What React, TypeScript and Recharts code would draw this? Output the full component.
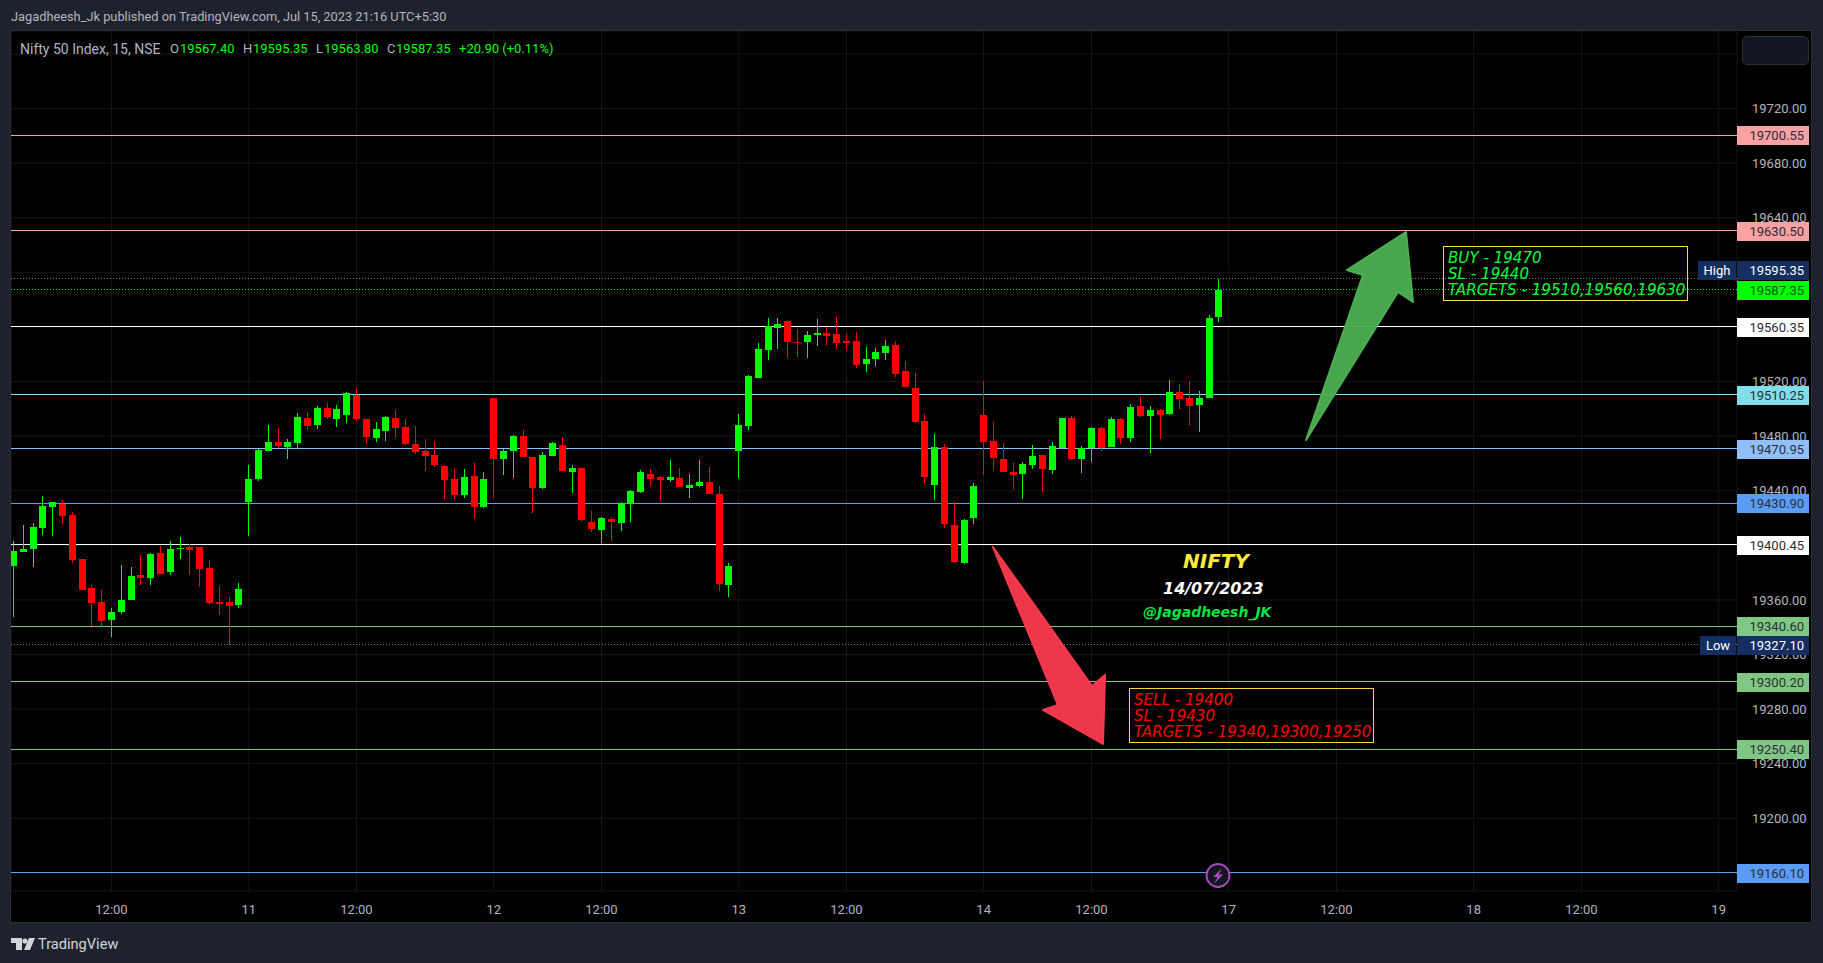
import { Bar, CartesianGrid, ComposedChart, ReferenceLine, XAxis, YAxis } from "recharts";

// 15 min bars, 10 Jul (partly off screen) to 14 Jul 2023
const opens = [
  19384.9, 19395.1, 19397.3, 19412.7, 19428.1, 19430.3, 19422.3, 19390, 19368.8, 19358.5,
  19345.3, 19351.2, 19360, 19378.3, 19376.1, 19394.4, 19380.5, 19397.3, 19398.8, 19398.8,
  19383.4, 19358.5, 19358.5, 19356.3, 19431.8, 19448.6, 19469.2, 19475.8, 19472.1, 19475,
  19493.3, 19488.2, 19500.7, 19492.6, 19495.5, 19510.2, 19492.6, 19478.7, 19483.8, 19493.3,
  19486.8, 19474.3, 19469.2, 19466.2, 19458.2, 19448.6, 19436.9, 19450.8, 19428.1, 19508,
  19463.3, 19469.2, 19480.2, 19464.8, 19442, 19465.5, 19473.6, 19453.8, 19456.7, 19417.1,
  19411.3, 19419.3, 19416.4, 19430.8, 19439.1, 19452.3, 19450.1, 19447.9, 19449.4, 19442,
  19443.5, 19446.4, 19437.6, 19371, 19469.1, 19487.5, 19522.6, 19543.2, 19559.3, 19564.4,
  19549, 19549, 19554.1, 19555.6, 19554.9, 19549.8, 19549.8, 19532.9, 19536.6, 19541,
  19546.8, 19527.8, 19515.3, 19491.1, 19444.2, 19472.1, 19414.9, 19387, 19420, 19495.5,
  19476.5, 19463.3, 19453.7, 19452.3, 19458.9, 19466.2, 19455.2, 19471.3, 19493.3, 19463.3,
  19471.3, 19486, 19472, 19492.6, 19478.6, 19502.1, 19494.8, 19499.2, 19496.2, 19512.4,
  19508, 19502.8, 19508, 19567.4,
];
const highs = [
  19403.2, 19414.9, 19416.4, 19436.2, 19431.8, 19433.3, 19424.5, 19390, 19371, 19367.3,
  19354.1, 19385.6, 19384.1, 19392.9, 19394.4, 19399.5, 19403.2, 19406.1, 19401, 19398.8,
  19389.3, 19370.2, 19362.2, 19372.4, 19458.9, 19470.6, 19488.2, 19486, 19478, 19497,
  19497.7, 19502.2, 19504.3, 19502.9, 19512.4, 19515.3, 19492.6, 19490.4, 19494.8, 19499.2,
  19492.6, 19487.5, 19478, 19476.5, 19458.9, 19456, 19456, 19460.4, 19453.8, 19508,
  19470.6, 19480.9, 19484.6, 19464.8, 19468.4, 19475.8, 19479.4, 19458.9, 19456.7, 19425.2,
  19420.8, 19420.8, 19431.8, 19440.6, 19455.2, 19456, 19450.8, 19462.6, 19456.7, 19452.3,
  19462.6, 19457.4, 19443.5, 19387.1, 19496.2, 19524.8, 19548.3, 19566.6, 19566.6, 19564.4,
  19558.5, 19557.1, 19565.9, 19560, 19567.3, 19554.9, 19556.3, 19545.4, 19544.6, 19550.5,
  19549.8, 19535.1, 19526.3, 19496.2, 19481.6, 19474.3, 19431.8, 19419.3, 19445.7, 19520.4,
  19490.4, 19475, 19460.3, 19461.1, 19473.5, 19466.2, 19475.7, 19493.3, 19494.8, 19472.8,
  19486.7, 19486.7, 19494, 19493.3, 19503.6, 19508.7, 19502.1, 19499.9, 19521.2, 19518.2,
  19520.4, 19513.1, 19568.8, 19595.35,
];
const lows = [
  19347.7, 19395.1, 19384.1, 19407.6, 19406.9, 19415.7, 19387.1, 19367.3, 19340.9, 19340.2,
  19332.8, 19349.7, 19360, 19371, 19371, 19379, 19378.3, 19390, 19378.3, 19369.5,
  19357, 19349, 19327.1, 19354.1, 19406.9, 19447.2, 19469.2, 19471.4, 19463.3, 19470.6,
  19484.6, 19485.3, 19492.6, 19486.8, 19489.7, 19491.2, 19474.3, 19475.8, 19476.5, 19478.7,
  19473.6, 19467, 19454.5, 19457.4, 19434, 19434, 19434.7, 19419.3, 19427.4, 19434.7,
  19451.6, 19449.4, 19464.8, 19423.7, 19441.3, 19465.5, 19454.5, 19438.4, 19417.9, 19409.8,
  19401.7, 19403.2, 19410.5, 19417.1, 19438.4, 19443.5, 19432.5, 19446.4, 19442.8, 19434.7,
  19442.8, 19437.6, 19366.6, 19362.2, 19449.3, 19484.5, 19522.6, 19535.8, 19543.9, 19537.3,
  19538, 19537.3, 19546.1, 19546.8, 19543.9, 19543.2, 19530, 19527, 19531.4, 19535.8,
  19523.4, 19516, 19489.7, 19444.9, 19433.2, 19412.7, 19387, 19386.3, 19415.6, 19451.5,
  19455.2, 19453.7, 19441.3, 19434, 19455.9, 19439.1, 19452.3, 19471.3, 19462.5, 19453,
  19461.1, 19469.1, 19472, 19474.2, 19475.7, 19494, 19467.7, 19477.9, 19495.5, 19499.9,
  19488.2, 19483, 19508, 19563.8,
];
const closes = [
  19395.9, 19397.3, 19413.5, 19428.9, 19431.8, 19421.5, 19389.3, 19367.3, 19357.8, 19344.6,
  19351.2, 19360, 19377.6, 19376.1, 19393.7, 19379, 19397.3, 19398.1, 19396.6, 19382.7,
  19357.8, 19357, 19355.6, 19368, 19448.6, 19469.9, 19475.8, 19472.8, 19475.8, 19494.1,
  19487.5, 19500.7, 19494.1, 19499.9, 19511.7, 19492.6, 19479.4, 19485.3, 19494.1, 19486,
  19474.3, 19468.4, 19465.5, 19458.9, 19447.9, 19436.9, 19450.1, 19428.1, 19448.6, 19463.3,
  19469.2, 19480.2, 19464.8, 19442, 19466.2, 19475, 19454.5, 19456.7, 19418.6, 19412,
  19420.1, 19417.1, 19430.8, 19439.8, 19453.8, 19448.6, 19447.9, 19450.1, 19442.8, 19444.2,
  19446.4, 19437.6, 19371.7, 19384.9, 19488.2, 19524.1, 19543.9, 19560.7, 19562.2, 19549,
  19548.3, 19554.1, 19555.6, 19553.4, 19548.3, 19548.3, 19532.2, 19536.6, 19541.7, 19546.1,
  19525.6, 19516, 19490.4, 19450.1, 19472.1, 19415.6, 19387.8, 19418.6, 19443.5, 19475.7,
  19464, 19453.7, 19451.5, 19459.6, 19465.5, 19455.9, 19472.8, 19493.3, 19463.3, 19471.3,
  19486, 19471.3, 19492.6, 19478.6, 19501.4, 19494.8, 19499.2, 19495.5, 19512.4, 19507.2,
  19502.1, 19508, 19566.6, 19587.35,
];

const xTicks = [10, 24, 35, 49, 60, 74, 85, 99, 110, 124, 135, 149, 160, 174];
const xTickLabels = ["12:00", "11", "12:00", "12", "12:00", "13", "12:00", "14", "12:00", "17", "12:00", "18", "12:00", "19"];
const yTicks = [19160, 19200, 19240, 19280, 19320, 19360, 19400, 19440, 19480, 19520, 19560, 19600, 19640, 19680, 19720, 19760];

const levels = [19700.55, 19630.5, 19560.35, 19510.25, 19470.95, 19430.9, 19400.45, 19340.6, 19300.2, 19250.4, 19160.1];
const levelColors = ["#faa1a4", "#faa1a4", "#ffffff", "#80deea", "#90bff9", "#5b9cf6", "#ffffff", "#81c784", "#81c784", "#81c784", "#5b9cf6"];

const sellLines = ["SELL - 19400", "SL - 19430", "TARGETS - 19340,19300,19250"];
const buyLines = ["BUY - 19470", "SL - 19440", "TARGETS - 19510,19560,19630"];

const candles = opens.map((open, i) => ({ i, open, high: highs[i], low: lows[i], close: closes[i] }));

const X_DOMAIN = [-0.255, 175.87];
const Y_DOMAIN = [19146.7, 19776.9];
const UI_FONT = "Roboto, sans-serif";
const NOTE_FONT = "'DejaVu Sans', sans-serif";
const GREEN = "#00ff00";
const RED = "#ff0000";
const GRID = "#161616";
const NAVY = "#142e61";

function Candle(props: any) {
  const { x, y, width, height, payload } = props;
  const color = payload.close >= payload.open ? GREEN : RED;
  const perUnit = height / (payload.high - payload.low);
  const top = y + (payload.high - Math.max(payload.open, payload.close)) * perUnit;
  const bodyH = Math.max(Math.abs(payload.close - payload.open) * perUnit, 1);
  const cx = Math.round(x + width / 2);
  return (
    <g shapeRendering="crispEdges">
      <rect x={cx} y={Math.round(y)} width={1} height={Math.max(Math.round(height), 1)} fill={color} />
      <rect x={cx - 3} y={Math.round(top)} width={7} height={Math.max(Math.round(bodyH), 1)} fill={color} />
    </g>
  );
}

// the coloured price tag on the right hand scale
function PriceTag({ viewBox, value, bg, fg, side, shift = 0 }: any) {
  const right = viewBox.x + viewBox.width;
  const cy = Math.round(viewBox.y) + shift;
  const sideW = side === "Low" ? 36 : 38;
  return (
    <g style={{ fontFamily: UI_FONT, fontSize: 13 }}>
      <rect x={right} y={cy - 9} width={72} height={19} fill={bg} shapeRendering="crispEdges" />
      <text x={right + 67} y={cy + 5} textAnchor="end" fill={fg}>{value}</text>
      {side && (
        <g>
          <rect x={right - sideW - 1} y={cy - 9} width={sideW} height={19} fill={bg} shapeRendering="crispEdges" />
          <text x={right - 1 - sideW / 2} y={cy + 5} textAnchor="middle" fill={fg}>{side}</text>
        </g>
      )}
    </g>
  );
}

function NoteBox({ left, top, width, height, color, lines }: any) {
  return (
    <div
      style={{
        position: "absolute",
        left,
        top,
        width,
        height,
        boxSizing: "border-box",
        border: "1px solid #fdd835",
        padding: "3px 0 0 4px",
        color,
        font: `italic 15.1px/16px ${NOTE_FONT}`,
        whiteSpace: "pre",
      }}
    >
      {lines.map((l: string) => (
        <div key={l}>{l}</div>
      ))}
    </div>
  );
}

function Abs({ left, top, color, size = 13, weight = 400, italic = false, font = UI_FONT, children }: any) {
  return (
    <div
      style={{
        position: "absolute",
        left,
        top,
        color,
        fontFamily: font,
        fontSize: size,
        fontWeight: weight,
        fontStyle: italic ? "italic" : "normal",
        lineHeight: "16px",
        whiteSpace: "pre",
      }}
    >
      {children}
    </div>
  );
}

export default function App() {
  return (
    <div style={{ position: "absolute", left: 0, top: 0, width: 1823, height: 963, background: "#1e222d", overflow: "hidden" }}>
      <div style={{ position: "absolute", left: 11, top: 31, width: 1800, height: 891, background: "#000" }} />

      {/* back layer: grid, scales, horizontal levels */}
      <div style={{ position: "absolute", left: 0, top: 0 }}>
        <ComposedChart width={1823} height={963} data={candles} margin={{ top: 31, right: 12, bottom: 41, left: 11 }}>
          <CartesianGrid stroke={GRID} />
          <XAxis
            dataKey="i"
            type="number"
            domain={X_DOMAIN}
            allowDataOverflow
            ticks={xTicks}
            interval={0}
            height={31}
            axisLine={false}
            tickLine={false}
            tickMargin={8}
            tick={{ fill: "#b2b5be", fontSize: 13, fontFamily: UI_FONT }}
            tickFormatter={(v: number) => xTickLabels[xTicks.indexOf(v)]}
          />
          <YAxis
            orientation="right"
            type="number"
            domain={Y_DOMAIN}
            allowDataOverflow
            ticks={yTicks}
            interval={0}
            width={74}
            axisLine={false}
            tickLine={false}
            tickMargin={9}
            tick={{ fill: "#b2b5be", fontSize: 13, fontFamily: UI_FONT }}
            tickFormatter={(v: number) => v.toFixed(2)}
          />
          {levels.map((lv, k) => (
            <ReferenceLine key={lv} y={lv} stroke={levelColors[k]} shapeRendering="crispEdges" />
          ))}
          <ReferenceLine y={19595.35} stroke="#787b86" strokeDasharray="1 2" shapeRendering="crispEdges" />
          <ReferenceLine y={19327.1} stroke="#787b86" strokeDasharray="1 2" shapeRendering="crispEdges" />
          <ReferenceLine y={19587.35} stroke={GREEN} strokeDasharray="1 2" shapeRendering="crispEdges" />
        </ComposedChart>
      </div>

      {/* front layer: candles and price tags, these sit over the levels and tick labels */}
      <div style={{ position: "absolute", left: 0, top: 0 }}>
        <ComposedChart width={1823} height={963} data={candles} margin={{ top: 31, right: 86, bottom: 72, left: 11 }}>
          <XAxis hide dataKey="i" type="number" domain={X_DOMAIN} allowDataOverflow />
          <YAxis hide type="number" domain={Y_DOMAIN} allowDataOverflow />
          <Bar dataKey={(d: any) => [d.low, d.high]} barSize={7} shape={<Candle />} isAnimationActive={false} />
          {levels.map((lv, k) => (
            <ReferenceLine
              key={lv}
              y={lv}
              stroke="none"
              label={<PriceTag value={lv.toFixed(2)} bg={levelColors[k]} fg="#2a2e39" />}
            />
          ))}
          <ReferenceLine y={19595.35} stroke="none" label={<PriceTag value="19595.35" bg={NAVY} fg="#ffffff" side="High" shift={-9} />} />
          <ReferenceLine y={19327.1} stroke="none" label={<PriceTag value="19327.10" bg={NAVY} fg="#ffffff" side="Low" />} />
          <ReferenceLine y={19587.35} stroke="none" label={<PriceTag value="19587.35" bg={GREEN} fg="#0f5a0f" />} />
        </ComposedChart>
      </div>

      {/* drawn annotations */}
      <svg width={1823} height={963} style={{ position: "absolute", left: 0, top: 0 }}>
        <polygon
          points="1306,440 1363,275 1347,270 1406,232 1413,302 1398,292"
          fill="#4caf50"
          fillOpacity={0.95}
          stroke="#4caf50"
          strokeWidth={2}
          strokeLinejoin="round"
        />
        <polygon
          points="993,547 1092,686 1105,675 1103,744 1043,710 1058,705"
          fill="#f7394e"
          fillOpacity={0.97}
          stroke="#f7394e"
          strokeWidth={2}
          strokeLinejoin="round"
        />
        <circle cx={1218} cy={875.5} r={11.5} fill="#131722" stroke="#ab47bc" strokeWidth={2} />
        <path d="M1222,868 L1213,877 L1217.5,877 L1214,884 L1223,874.5 L1218.5,874.5 Z" fill="#ab47bc" />
        {/* TradingView mark */}
        <path d="M11,938 H22 V950 H16 V943 H11 Z" fill="#d1d4dc" />
        <circle cx={25} cy={941} r={2.6} fill="#d1d4dc" />
        <path d="M29,938 H35 L30,950 H24 Z" fill="#d1d4dc" />
      </svg>

      <NoteBox left={1443} top={246} width={245} height={55} color="#00ff3c" lines={buyLines} />
      <NoteBox left={1129} top={688} width={245} height={55} color={RED} lines={sellLines} />
      <Abs left={1183} top={553} color="#ffeb3b" size={20} weight={700} italic font={NOTE_FONT}>NIFTY</Abs>
      <Abs left={1163} top={581} color="#ffffff" size={16} weight={700} italic font={NOTE_FONT}>14/07/2023</Abs>
      <Abs left={1143} top={604} color="#00e640" size={14} weight={700} italic font={NOTE_FONT}>@Jagadheesh_JK</Abs>

      {/* page header and legend */}
      <Abs left={11} top={9} color="#b2b5be" size={12.8}>Jagadheesh_Jk published on TradingView.com, Jul 15, 2023 21:16 UTC+5:30</Abs>
      <Abs left={20} top={41} color="#b2b5be" size={14}>Nifty 50 Index, 15, NSE</Abs>
      <Abs left={170} top={41} color="#b2b5be">O</Abs>
      <Abs left={180} top={41} color={GREEN}>19567.40</Abs>
      <Abs left={243} top={41} color="#b2b5be">H</Abs>
      <Abs left={253} top={41} color={GREEN}>19595.35</Abs>
      <Abs left={316} top={41} color="#b2b5be">L</Abs>
      <Abs left={324} top={41} color={GREEN}>19563.80</Abs>
      <Abs left={387} top={41} color="#b2b5be">C</Abs>
      <Abs left={396} top={41} color={GREEN}>19587.35</Abs>
      <Abs left={459} top={41} color={GREEN}>+20.90 (+0.11%)</Abs>

      <div style={{ position: "absolute", left: 1742, top: 36, width: 67, height: 29, boxSizing: "border-box", background: "#131722", border: "1px solid #2a2e39", borderRadius: 5 }} />
      <Abs left={38} top={936} color="#d1d4dc" size={14.6}>TradingView</Abs>

      {/* pane frame, also hides the part of the first candle past the edge */}
      <div style={{ position: "absolute", left: 0, top: 31, width: 10, height: 891, background: "#1e222d" }} />
      <div style={{ position: "absolute", left: 10, top: 30, width: 1802, height: 893, boxSizing: "border-box", border: "1px solid #2a2e39", pointerEvents: "none" }} />
    </div>
  );
}
